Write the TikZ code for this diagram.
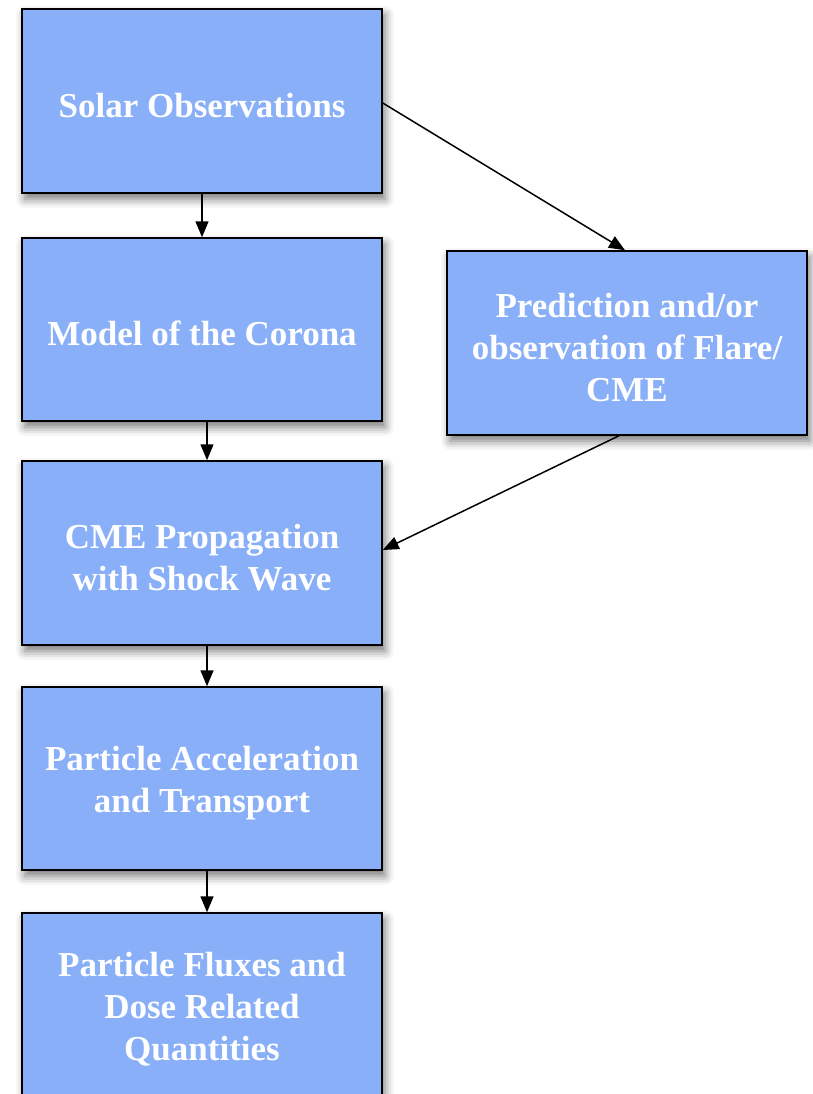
\documentclass[tikz,border=0pt]{standalone}
\usepackage{fontspec}
\setmainfont{Liberation Serif}
\usetikzlibrary{arrows.meta,shadows.blur}
\definecolor{boxblue}{RGB}{137,175,248}
\newcommand{\tstrut}{\rule{0pt}{33pt}}
\tikzset{
  flowbox/.style={draw=black, line width=1.5pt, fill=boxblue, minimum width=360pt, minimum height=184pt,
    inner sep=0pt, align=center, text=white, font=\fontsize{35}{42}\selectfont\bfseries,
    blur shadow={shadow xshift=3pt, shadow yshift=-6pt, shadow blur radius=9pt, shadow opacity=55}},
  flowarrow/.style={draw=black, line width=1.5pt, -{Triangle[length=16pt,width=13pt]}}
}
\begin{document}
\begin{tikzpicture}[x=1pt,y=-1pt]
\useasboundingbox (0,0) rectangle (813,1094);
\clip (0,0) rectangle (813,1094);
\node[flowbox] (sol) at (202,101) {\tstrut Solar Observations};
\node[flowbox, minimum height=183pt] (cor) at (202,329.5) {\tstrut Model of the Corona};
\node[flowbox] (pred) at (627,343) {\tstrut Prediction and/or\\observation of Flare/\\CME};
\node[flowbox] (cme) at (202,553) {\tstrut CME Propagation\\with Shock Wave};
\node[flowbox, minimum height=183pt] (acc) at (202,778.5) {\tstrut Particle Acceleration\\and Transport};
\node[flowbox] (flux) at (202,1005) {\tstrut Particle Fluxes and\\Dose Related\\Quantities};
\draw[flowarrow] (sol.south) -- (cor.north);
\draw[flowarrow] ([xshift=5pt]cor.south) -- ([xshift=5pt]cme.north);
\draw[flowarrow] ([xshift=5pt]cme.south) -- ([xshift=5pt]acc.north);
\draw[flowarrow] ([xshift=5pt]acc.south) -- ([xshift=5pt]flux.north);
\draw[flowarrow] ([yshift=-2pt]sol.east) -- ([xshift=-2pt]pred.north);
\draw[flowarrow] ([xshift=-8pt]pred.south) -- ([yshift=3pt]cme.east);
\end{tikzpicture}
\end{document}
